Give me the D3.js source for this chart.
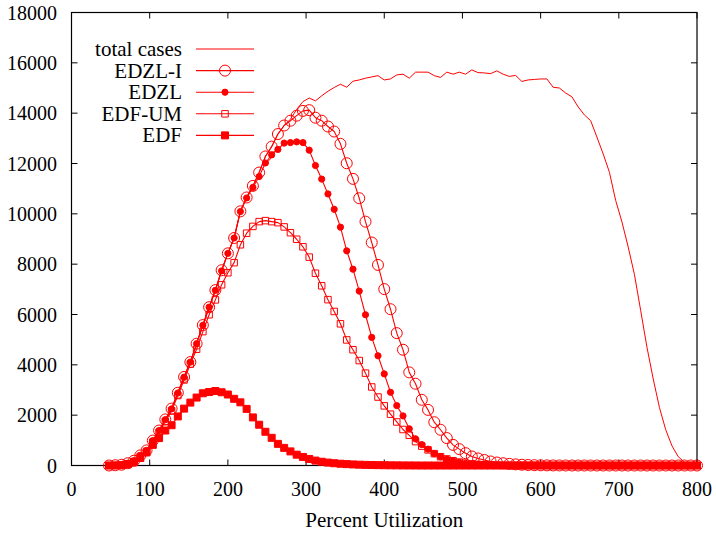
<!DOCTYPE html>
<html>
<head>
<meta charset="utf-8">
<script src="https://cdn.jsdelivr.net/npm/d3@7"></script>
</head>
<body style="margin:0">
<svg id="chart" width="716" height="534" style="display:block" font-family="Liberation Serif"></svg>
<script>
// ---------- data ----------
const utilization = [48,56,64,72,80,88,96,104,112,120,128,136,144,152,160,168,176,184,192,200,
  208,216,224,232,240,248,256,264,272,280,288,296,304,312,320,328,336,344,352,360,
  368,376,384,392,400,408,416,424,432,440,448,456,464,472,480,488,496,504,512,520,
  528,536,544,552,560,568,576,584,592,600,608,616,624,632,640,648,656,664,672,680,
  688,696,704,712,720,728,736,744,752,760,768,776,784,792,800];

const totalCases = [0,10,30,90,190,400,600,990,1390,1830,2260,2890,3520,4110,4840,5580,6290,6970,7760,8430,
  9040,10100,10650,11110,11640,12280,12670,13170,13510,13760,14150,14460,14600,14490,14690,14870,15020,15150,15030,15270,
  15320,15390,15440,15490,15320,15360,15520,15550,15390,15630,15630,15630,15490,15420,15630,15550,15630,15550,15720,15610,
  15600,15570,15680,15550,15460,15500,15260,15320,15340,15360,15360,15030,15000,14800,14650,14250,13930,13700,13050,12380,
  11650,10530,9680,8680,7590,6150,4700,3440,2300,1420,780,350,130,40,0];

const edzlI = [0,10,30,90,190,400,600,990,1390,1830,2260,2890,3520,4110,4840,5580,6290,6970,7760,8430,
  9040,10100,10650,11110,11640,12280,12670,13170,13510,13700,13900,14090,14120,13820,13700,13470,13270,12780,12010,11390,
  10620,9690,8860,7970,7010,6210,5260,4600,3700,3250,2610,2210,1720,1420,1090,820,650,490,360,280,
  220,160,120,90,65,45,30,20,12,8,5,3,2,1,0,0,0,0,0,0,
  0,0,0,0,0,0,0,0,0,0,0,0,0,0,0];

const edzl = [0,10,30,90,190,400,600,990,1390,1820,2250,2880,3510,4110,4840,5570,6290,6960,7730,8430,
  9040,10090,10630,11050,11480,12020,12340,12560,12810,12830,12860,12830,12530,11920,11380,10790,10180,9470,8530,7800,
  6930,5990,5090,4360,3640,2910,2380,1970,1460,1060,830,650,470,350,250,180,125,85,60,40,
  28,18,12,8,5,3,2,1,0,0,0,0,0,0,0,0,0,0,0,0,
  0,0,0,0,0,0,0,0,0,0,0,0,0,0,0];

const edfUM = [0,5,20,60,160,360,560,930,1320,1750,2170,2780,3400,4030,4620,5320,5990,6580,7180,7660,
  8060,8770,9230,9500,9690,9730,9690,9650,9480,9250,8990,8690,8280,7640,7140,6590,6120,5630,4990,4600,
  4170,3670,3120,2720,2370,2040,1730,1430,1200,950,770,620,470,350,260,190,135,95,65,45,
  30,20,13,8,5,3,2,1,0,0,0,0,0,0,0,0,0,0,0,0,
  0,0,0,0,0,0,0,0,0,0,0,0,0,0,0];

const edf = [0,0,10,50,130,300,520,820,1090,1390,1600,1950,2260,2500,2700,2870,2920,2960,2910,2820,
  2650,2510,2250,1910,1620,1340,1100,860,700,560,430,340,260,195,150,115,90,70,55,42,
  32,25,19,14,10,7,5,3,2,1,0,0,0,0,0,0,0,0,0,0,
  0,0,0,0,0,0,0,0,0,0,0,0,0,0,0,0,0,0,0,0,
  0,0,0,0,0,0,0,0,0,0,0,0,0,0,0];

const xTicks = [0,100,200,300,400,500,600,700,800];
const yTicks = [0,2000,4000,6000,8000,10000,12000,14000,16000,18000];
const seriesNames = ["total cases","EDZL-I","EDZL","EDF-UM","EDF"];
const xLabel = "Percent Utilization";

// ---------- layout ----------
const FAM = "Liberation Serif";
const svg = d3.select("#chart");
const L = 71.5, R = 697, T = 12.5, B = 465.5;
const RED = "#ff0000";
const x = d3.scaleLinear().domain([0, 800]).range([L, R]);
const y = d3.scaleLinear().domain([0, 18000]).range([B, T]);
const fmt = d3.format("d");
const legY0 = 49, legDy = 21.6;
const tickLen = 6;

// ---------- ticks drawn from the scales (inward, all four sides) ----------
const ticks = svg.append("g").attr("stroke", "#000").attr("stroke-width", 1);
xTicks.forEach(v => {
  ticks.append("line").attr("x1", x(v)).attr("x2", x(v)).attr("y1", B).attr("y2", B - tickLen);
  ticks.append("line").attr("x1", x(v)).attr("x2", x(v)).attr("y1", T).attr("y2", T + tickLen);
});
yTicks.forEach(v => {
  ticks.append("line").attr("x1", L).attr("x2", L + tickLen).attr("y1", y(v)).attr("y2", y(v));
  ticks.append("line").attr("x1", R).attr("x2", R - tickLen).attr("y1", y(v)).attr("y2", y(v));
});

// ---------- texts ----------
const textLayer = svg.append("g").attr("font-family", FAM).attr("fill", "#000");
xTicks.forEach(v => {
  textLayer.append("text").attr("x", x(v)).attr("y", B + 30).attr("text-anchor", "middle")
    .attr("font-family", FAM).attr("font-size", 20).text(fmt(v));
});
yTicks.forEach(v => {
  textLayer.append("text").attr("x", L - 14.5).attr("y", y(v) + 7.2).attr("text-anchor", "end")
    .attr("font-family", FAM).attr("font-size", 20).text(fmt(v));
});
textLayer.append("text").attr("x", (L + R) / 2).attr("y", 527).attr("text-anchor", "middle")
  .attr("font-family", FAM).attr("font-size", 21).text(xLabel);
seriesNames.forEach((name, si) => {
  textLayer.append("text").attr("x", 182).attr("y", legY0 + si * legDy + 7)
    .attr("text-anchor", "end").attr("font-family", FAM).attr("font-size", 21).text(name);
});

// frame
svg.append("rect").attr("x", L).attr("y", T).attr("width", R - L).attr("height", B - T)
  .attr("fill", "none").attr("stroke", "#000").attr("stroke-width", 1.2);

// ---------- series ----------
const line = d3.line().x((d, i) => x(utilization[i])).y(d => y(d));
const data = [totalCases, edzlI, edzl, edfUM, edf];
const markers = [
  null,
  {type: d3.symbolCircle, size: Math.PI * 5.5 * 5.5, fill: "none"},
  {type: d3.symbolCircle, size: Math.PI * 3.1 * 3.1, fill: RED},
  {type: d3.symbolSquare, size: 6.5 * 6.5, fill: "none"},
  {type: d3.symbolSquare, size: 7 * 7, fill: RED}
];

data.forEach((vals, si) => {
  const g = svg.append("g");
  g.append("path").datum(vals).attr("d", line)
    .attr("fill", "none").attr("stroke", RED).attr("stroke-width", si === 0 ? 1 : 1.1)
    .attr("stroke-linejoin", "round");
  const m = markers[si];
  if (m) {
    g.selectAll("path.m").data(vals).enter().append("path").attr("class", "m")
      .attr("d", d3.symbol().type(m.type).size(m.size))
      .attr("transform", (d, i) => `translate(${x(utilization[i])},${y(d)})`)
      .attr("fill", m.fill).attr("stroke", RED).attr("stroke-width", 1);
  }
});

// ---------- legend samples ----------
const leg = svg.append("g");
seriesNames.forEach((name, si) => {
  const yy = legY0 + si * legDy;
  leg.append("line").attr("x1", 196).attr("x2", 254).attr("y1", yy).attr("y2", yy)
    .attr("stroke", RED).attr("stroke-width", si === 0 ? 1 : 1.1);
  const m = markers[si];
  if (m) {
    leg.append("path").attr("d", d3.symbol().type(m.type).size(m.size)())
      .attr("transform", `translate(225,${yy})`)
      .attr("fill", m.fill).attr("stroke", RED).attr("stroke-width", 1);
  }
});
</script>
</body>
</html>
